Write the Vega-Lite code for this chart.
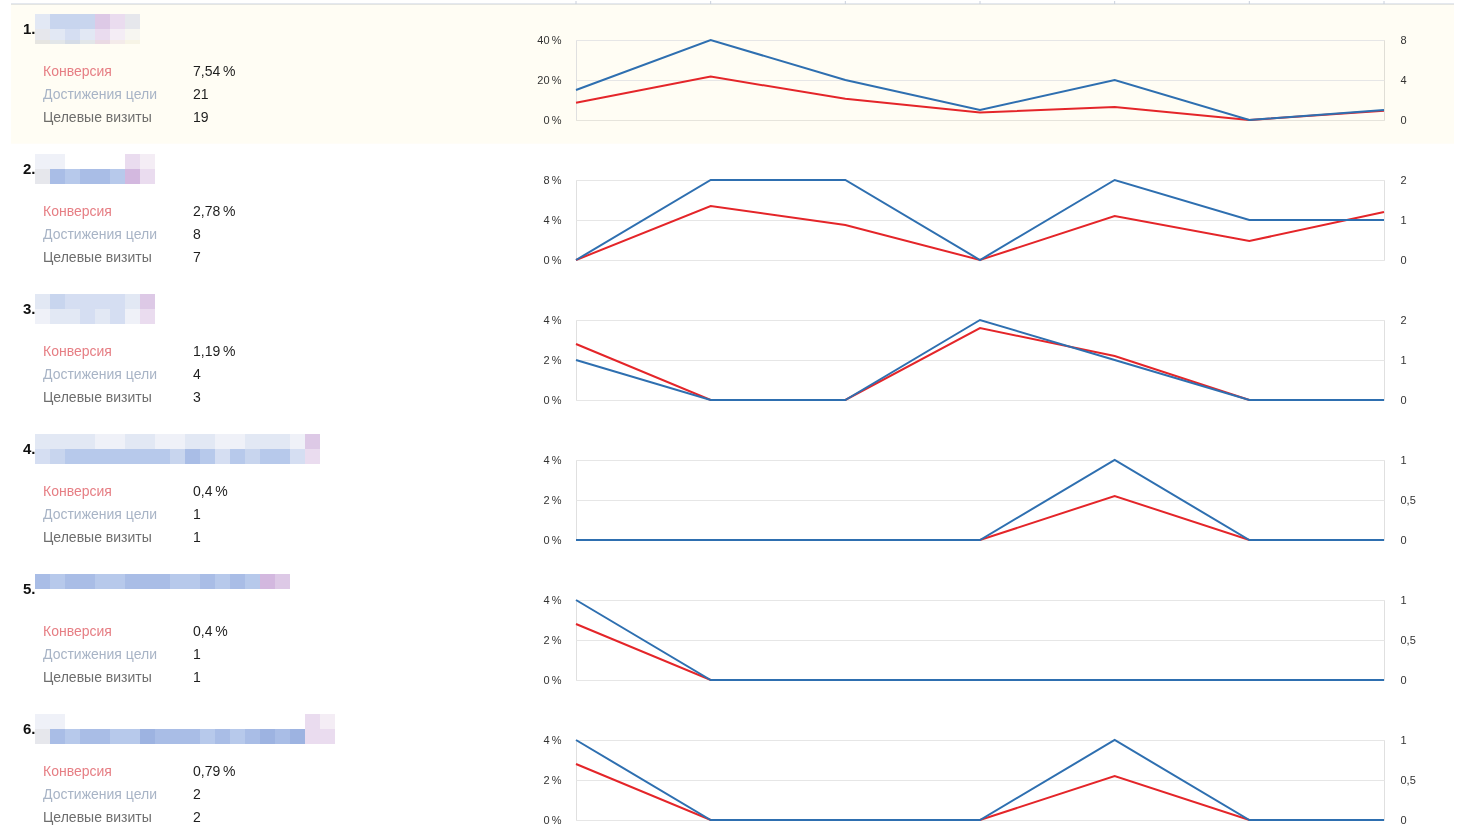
{
  "$schema": "https://vega.github.io/schema/vega-lite/v6.json",
  "padding": {"left": 10, "top": 0, "right": 0, "bottom": 0},
  "background": "white",
  "bounds": "flush",
  "spacing": 0,
  "columns": 3,
  "datasets": {
    "rows": [
      {"rank": 1, "num": "1.", "selected": true},
      {"rank": 2, "num": "2.", "selected": false},
      {"rank": 3, "num": "3.", "selected": false},
      {"rank": 4, "num": "4.", "selected": false},
      {"rank": 5, "num": "5.", "selected": false},
      {"rank": 6, "num": "6.", "selected": false}
    ],
    "metrics": [
      {"rank": 1, "metric": "Конверсия", "value": "7,54\u2009%"},
      {"rank": 1, "metric": "Достижения цели", "value": "21"},
      {"rank": 1, "metric": "Целевые визиты", "value": "19"},
      {"rank": 2, "metric": "Конверсия", "value": "2,78\u2009%"},
      {"rank": 2, "metric": "Достижения цели", "value": "8"},
      {"rank": 2, "metric": "Целевые визиты", "value": "7"},
      {"rank": 3, "metric": "Конверсия", "value": "1,19\u2009%"},
      {"rank": 3, "metric": "Достижения цели", "value": "4"},
      {"rank": 3, "metric": "Целевые визиты", "value": "3"},
      {"rank": 4, "metric": "Конверсия", "value": "0,4\u2009%"},
      {"rank": 4, "metric": "Достижения цели", "value": "1"},
      {"rank": 4, "metric": "Целевые визиты", "value": "1"},
      {"rank": 5, "metric": "Конверсия", "value": "0,4\u2009%"},
      {"rank": 5, "metric": "Достижения цели", "value": "1"},
      {"rank": 5, "metric": "Целевые визиты", "value": "1"},
      {"rank": 6, "metric": "Конверсия", "value": "0,79\u2009%"},
      {"rank": 6, "metric": "Достижения цели", "value": "2"},
      {"rank": 6, "metric": "Целевые визиты", "value": "2"}
    ],
    "series": [
      {"rank": 1, "idx": 0, "conv": 8.65, "goals": 3},
      {"rank": 1, "idx": 1, "conv": 21.7, "goals": 8},
      {"rank": 1, "idx": 2, "conv": 10.6, "goals": 4},
      {"rank": 1, "idx": 3, "conv": 3.7, "goals": 1},
      {"rank": 1, "idx": 4, "conv": 6.5, "goals": 4},
      {"rank": 1, "idx": 5, "conv": 0, "goals": 0},
      {"rank": 1, "idx": 6, "conv": 4.6, "goals": 1},
      {"rank": 2, "idx": 0, "conv": 0, "goals": 0},
      {"rank": 2, "idx": 1, "conv": 5.4, "goals": 2},
      {"rank": 2, "idx": 2, "conv": 3.5, "goals": 2},
      {"rank": 2, "idx": 3, "conv": 0, "goals": 0},
      {"rank": 2, "idx": 4, "conv": 4.4, "goals": 2},
      {"rank": 2, "idx": 5, "conv": 1.9, "goals": 1},
      {"rank": 2, "idx": 6, "conv": 4.8, "goals": 1},
      {"rank": 3, "idx": 0, "conv": 2.8, "goals": 1},
      {"rank": 3, "idx": 1, "conv": 0, "goals": 0},
      {"rank": 3, "idx": 2, "conv": 0, "goals": 0},
      {"rank": 3, "idx": 3, "conv": 3.6, "goals": 2},
      {"rank": 3, "idx": 4, "conv": 2.2, "goals": 1},
      {"rank": 3, "idx": 5, "conv": 0, "goals": 0},
      {"rank": 3, "idx": 6, "conv": 0, "goals": 0},
      {"rank": 4, "idx": 0, "conv": 0, "goals": 0},
      {"rank": 4, "idx": 1, "conv": 0, "goals": 0},
      {"rank": 4, "idx": 2, "conv": 0, "goals": 0},
      {"rank": 4, "idx": 3, "conv": 0, "goals": 0},
      {"rank": 4, "idx": 4, "conv": 2.2, "goals": 1},
      {"rank": 4, "idx": 5, "conv": 0, "goals": 0},
      {"rank": 4, "idx": 6, "conv": 0, "goals": 0},
      {"rank": 5, "idx": 0, "conv": 2.8, "goals": 1},
      {"rank": 5, "idx": 1, "conv": 0, "goals": 0},
      {"rank": 5, "idx": 2, "conv": 0, "goals": 0},
      {"rank": 5, "idx": 3, "conv": 0, "goals": 0},
      {"rank": 5, "idx": 4, "conv": 0, "goals": 0},
      {"rank": 5, "idx": 5, "conv": 0, "goals": 0},
      {"rank": 5, "idx": 6, "conv": 0, "goals": 0},
      {"rank": 6, "idx": 0, "conv": 2.8, "goals": 1},
      {"rank": 6, "idx": 1, "conv": 0, "goals": 0},
      {"rank": 6, "idx": 2, "conv": 0, "goals": 0},
      {"rank": 6, "idx": 3, "conv": 0, "goals": 0},
      {"rank": 6, "idx": 4, "conv": 2.2, "goals": 1},
      {"rank": 6, "idx": 5, "conv": 0, "goals": 0},
      {"rank": 6, "idx": 6, "conv": 0, "goals": 0}
    ],
    "blocks": [
      {"rank": 1, "bx": 0, "by": 0, "c": "f"}, {"rank": 1, "bx": 1, "by": 0, "c": "d"}, {"rank": 1, "bx": 2, "by": 0, "c": "d"}, {"rank": 1, "bx": 3, "by": 0, "c": "d"}, {"rank": 1, "bx": 4, "by": 0, "c": "q"}, {"rank": 1, "bx": 5, "by": 0, "c": "r"}, {"rank": 1, "bx": 6, "by": 0, "c": "h"},
      {"rank": 1, "bx": 0, "by": 1, "c": "h"}, {"rank": 1, "bx": 1, "by": 1, "c": "f"}, {"rank": 1, "bx": 2, "by": 1, "c": "e"}, {"rank": 1, "bx": 3, "by": 1, "c": "f"}, {"rank": 1, "bx": 4, "by": 1, "c": "r"}, {"rank": 1, "bx": 5, "by": 1, "c": "s"}, {"rank": 1, "bx": 6, "by": 1, "c": "w"},
      {"rank": 2, "bx": 0, "by": 0, "c": "g"}, {"rank": 2, "bx": 1, "by": 0, "c": "g"}, {"rank": 2, "bx": 6, "by": 0, "c": "r"}, {"rank": 2, "bx": 7, "by": 0, "c": "s"},
      {"rank": 2, "bx": 0, "by": 1, "c": "h"}, {"rank": 2, "bx": 1, "by": 1, "c": "b"}, {"rank": 2, "bx": 2, "by": 1, "c": "c"}, {"rank": 2, "bx": 3, "by": 1, "c": "b"}, {"rank": 2, "bx": 4, "by": 1, "c": "b"}, {"rank": 2, "bx": 5, "by": 1, "c": "c"}, {"rank": 2, "bx": 6, "by": 1, "c": "p"}, {"rank": 2, "bx": 7, "by": 1, "c": "r"},
      {"rank": 3, "bx": 0, "by": 0, "c": "f"}, {"rank": 3, "bx": 1, "by": 0, "c": "d"}, {"rank": 3, "bx": 2, "by": 0, "c": "e"}, {"rank": 3, "bx": 3, "by": 0, "c": "e"}, {"rank": 3, "bx": 4, "by": 0, "c": "e"}, {"rank": 3, "bx": 5, "by": 0, "c": "e"}, {"rank": 3, "bx": 6, "by": 0, "c": "f"}, {"rank": 3, "bx": 7, "by": 0, "c": "q"},
      {"rank": 3, "bx": 0, "by": 1, "c": "g"}, {"rank": 3, "bx": 1, "by": 1, "c": "f"}, {"rank": 3, "bx": 2, "by": 1, "c": "f"}, {"rank": 3, "bx": 3, "by": 1, "c": "e"}, {"rank": 3, "bx": 4, "by": 1, "c": "f"}, {"rank": 3, "bx": 5, "by": 1, "c": "e"}, {"rank": 3, "bx": 6, "by": 1, "c": "g"}, {"rank": 3, "bx": 7, "by": 1, "c": "r"},
      {"rank": 4, "bx": 0, "by": 0, "c": "f"}, {"rank": 4, "bx": 1, "by": 0, "c": "f"}, {"rank": 4, "bx": 2, "by": 0, "c": "f"}, {"rank": 4, "bx": 3, "by": 0, "c": "f"}, {"rank": 4, "bx": 4, "by": 0, "c": "g"}, {"rank": 4, "bx": 5, "by": 0, "c": "g"}, {"rank": 4, "bx": 6, "by": 0, "c": "f"}, {"rank": 4, "bx": 7, "by": 0, "c": "f"}, {"rank": 4, "bx": 8, "by": 0, "c": "g"}, {"rank": 4, "bx": 9, "by": 0, "c": "g"}, {"rank": 4, "bx": 10, "by": 0, "c": "f"}, {"rank": 4, "bx": 11, "by": 0, "c": "f"}, {"rank": 4, "bx": 12, "by": 0, "c": "g"}, {"rank": 4, "bx": 13, "by": 0, "c": "g"}, {"rank": 4, "bx": 14, "by": 0, "c": "f"}, {"rank": 4, "bx": 15, "by": 0, "c": "f"}, {"rank": 4, "bx": 16, "by": 0, "c": "f"}, {"rank": 4, "bx": 17, "by": 0, "c": "g"}, {"rank": 4, "bx": 18, "by": 0, "c": "q"},
      {"rank": 4, "bx": 0, "by": 1, "c": "e"}, {"rank": 4, "bx": 1, "by": 1, "c": "d"}, {"rank": 4, "bx": 2, "by": 1, "c": "c"}, {"rank": 4, "bx": 3, "by": 1, "c": "c"}, {"rank": 4, "bx": 4, "by": 1, "c": "c"}, {"rank": 4, "bx": 5, "by": 1, "c": "c"}, {"rank": 4, "bx": 6, "by": 1, "c": "c"}, {"rank": 4, "bx": 7, "by": 1, "c": "c"}, {"rank": 4, "bx": 8, "by": 1, "c": "c"}, {"rank": 4, "bx": 9, "by": 1, "c": "d"}, {"rank": 4, "bx": 10, "by": 1, "c": "b"}, {"rank": 4, "bx": 11, "by": 1, "c": "c"}, {"rank": 4, "bx": 12, "by": 1, "c": "e"}, {"rank": 4, "bx": 13, "by": 1, "c": "c"}, {"rank": 4, "bx": 14, "by": 1, "c": "d"}, {"rank": 4, "bx": 15, "by": 1, "c": "c"}, {"rank": 4, "bx": 16, "by": 1, "c": "c"}, {"rank": 4, "bx": 17, "by": 1, "c": "e"}, {"rank": 4, "bx": 18, "by": 1, "c": "r"},
      {"rank": 5, "bx": 0, "by": 0, "c": "b"}, {"rank": 5, "bx": 1, "by": 0, "c": "c"}, {"rank": 5, "bx": 2, "by": 0, "c": "b"}, {"rank": 5, "bx": 3, "by": 0, "c": "b"}, {"rank": 5, "bx": 4, "by": 0, "c": "c"}, {"rank": 5, "bx": 5, "by": 0, "c": "c"}, {"rank": 5, "bx": 6, "by": 0, "c": "b"}, {"rank": 5, "bx": 7, "by": 0, "c": "b"}, {"rank": 5, "bx": 8, "by": 0, "c": "b"}, {"rank": 5, "bx": 9, "by": 0, "c": "c"}, {"rank": 5, "bx": 10, "by": 0, "c": "c"}, {"rank": 5, "bx": 11, "by": 0, "c": "b"}, {"rank": 5, "bx": 12, "by": 0, "c": "c"}, {"rank": 5, "bx": 13, "by": 0, "c": "b"}, {"rank": 5, "bx": 14, "by": 0, "c": "c"}, {"rank": 5, "bx": 15, "by": 0, "c": "p"}, {"rank": 5, "bx": 16, "by": 0, "c": "q"},
      {"rank": 6, "bx": 0, "by": 0, "c": "g"}, {"rank": 6, "bx": 1, "by": 0, "c": "g"}, {"rank": 6, "bx": 18, "by": 0, "c": "r"}, {"rank": 6, "bx": 19, "by": 0, "c": "s"},
      {"rank": 6, "bx": 0, "by": 1, "c": "h"}, {"rank": 6, "bx": 1, "by": 1, "c": "b"}, {"rank": 6, "bx": 2, "by": 1, "c": "c"}, {"rank": 6, "bx": 3, "by": 1, "c": "b"}, {"rank": 6, "bx": 4, "by": 1, "c": "b"}, {"rank": 6, "bx": 5, "by": 1, "c": "c"}, {"rank": 6, "bx": 6, "by": 1, "c": "c"}, {"rank": 6, "bx": 7, "by": 1, "c": "a"}, {"rank": 6, "bx": 8, "by": 1, "c": "b"}, {"rank": 6, "bx": 9, "by": 1, "c": "b"}, {"rank": 6, "bx": 10, "by": 1, "c": "b"}, {"rank": 6, "bx": 11, "by": 1, "c": "c"}, {"rank": 6, "bx": 12, "by": 1, "c": "b"}, {"rank": 6, "bx": 13, "by": 1, "c": "c"}, {"rank": 6, "bx": 14, "by": 1, "c": "b"}, {"rank": 6, "bx": 15, "by": 1, "c": "a"}, {"rank": 6, "bx": 16, "by": 1, "c": "b"}, {"rank": 6, "bx": 17, "by": 1, "c": "a"}, {"rank": 6, "bx": 18, "by": 1, "c": "r"}, {"rank": 6, "bx": 19, "by": 1, "c": "r"}
    ]
  },
  "concat": [
    {"width": 565, "height": 3, "data": {"name": "rows"}, "transform": [{"filter": "datum.rank == 1"}], "mark": {"type": "rule", "color": "#c9d0dc"}, "encoding": {"y": {"datum": 0, "type": "quantitative", "scale": {"domain": [0, 1]}, "axis": null}}},
    {"width": 808, "height": 3,
     "layer": [
       {"data": {"name": "rows"}, "transform": [{"filter": "datum.rank == 1"}], "mark": {"type": "rule", "color": "#c9d0dc"}, "encoding": {"y": {"datum": 0, "type": "quantitative", "scale": {"domain": [0, 1]}, "axis": null}}},
       {"data": {"name": "series"}, "transform": [{"filter": "datum.rank == 1"}], "mark": {"type": "rule", "color": "#c9d0dc"}, "encoding": {"x": {"field": "idx", "type": "quantitative", "scale": {"domain": [0, 6]}, "axis": null}}}
     ],
     "resolve": {"scale": {"x": "independent", "y": "independent"}}},
    {"width": 70, "height": 3, "data": {"name": "rows"}, "transform": [{"filter": "datum.rank == 1"}], "mark": {"type": "rule", "color": "#c9d0dc"}, "encoding": {"y": {"datum": 0, "type": "quantitative", "scale": {"domain": [0, 1]}, "axis": null}}},

    {"width": 565, "height": 36,
     "layer": [
       {"data": {"name": "rows"}, "transform": [{"filter": "datum.selected && datum.rank == 1"}], "mark": {"type": "rect", "color": "#fffdf4", "blend": "multiply"}, "encoding": {}},
       {"data": {"name": "rows"}, "transform": [{"filter": "datum.rank == 1"}], "mark": {"type": "text", "align": "left", "baseline": "middle", "fontSize": 15, "fontWeight": "bold", "color": "#111111", "dx": -20},
        "encoding": {"x": {"datum": "label", "type": "nominal", "scale": {"type": "point", "domain": ["label", "value", "end"], "padding": 0.883, "align": 0.1208}, "axis": null},
                     "y": {"datum": "title", "type": "nominal", "scale": {"type": "point", "domain": ["title"], "padding": 0, "align": 0.694}, "axis": null},
                     "text": {"field": "num"}}},
       {"data": {"name": "blocks"}, "transform": [{"filter": "datum.rank == 1"}], "mark": {"type": "rect", "height": 15},
        "encoding": {"x": {"field": "bx", "type": "ordinal", "scale": {"type": "band", "domain": [0,1,2,3,4,5,6,7,8,9,10,11,12,13,14,15,16,17,18,19,20,21,22,23,24,25,26,27,28,29,30,31,32,33,34,35], "paddingInner": 0, "paddingOuter": 0.8333, "align": 0.96}, "axis": null},
                     "y": {"field": "by", "type": "ordinal", "scale": {"type": "point", "domain": [0, 1], "padding": 0.7, "align": 0.833}, "axis": null},
                     "color": {"field": "c", "type": "nominal", "legend": null, "scale": {"domain": ["a","b","c","d","e","f","g","h","p","q","r","s","w"], "range": ["#9db3e1","#a9bde6","#b7c9eb","#c8d5ee","#d5def2","#e2e8f4","#eff1f8","#e6e7ec","#d3b8df","#ddc9e6","#eadcef","#f4edf5","#f7f6f1"]}}}}
     ],
     "resolve": {"scale": {"x": "independent", "y": "independent"}}},
    {"width": 808, "height": 36, "data": {"name": "rows"}, "transform": [{"filter": "datum.selected && datum.rank == 1"}], "mark": {"type": "rect", "color": "#fffdf4", "blend": "multiply"}, "encoding": {}},
    {"width": 70, "height": 36, "data": {"name": "rows"}, "transform": [{"filter": "datum.selected && datum.rank == 1"}], "mark": {"type": "rect", "color": "#fffdf4", "blend": "multiply"}, "encoding": {}},
    {"width": 565, "height": 80,
     "layer": [
       {"data": {"name": "rows"}, "transform": [{"filter": "datum.selected && datum.rank == 1"}], "mark": {"type": "rect", "color": "#fffdf4", "blend": "multiply"}, "encoding": {}},
       {"data": {"name": "metrics"}, "transform": [{"filter": "datum.rank == 1"}], "mark": {"type": "text", "align": "left", "baseline": "middle", "fontSize": 14},
        "encoding": {"x": {"datum": "label", "type": "nominal", "scale": {"type": "point", "domain": ["label", "value", "end"], "padding": 0.883, "align": 0.1208}, "axis": null},
                     "y": {"field": "metric", "type": "nominal", "scale": {"type": "point", "domain": ["Конверсия", "Достижения цели", "Целевые визиты"], "padding": 0.739, "align": 0.941}, "axis": null},
                     "text": {"field": "metric"},
                     "color": {"field": "metric", "type": "nominal", "legend": null, "scale": {"domain": ["Конверсия", "Достижения цели", "Целевые визиты"], "range": ["#e67e84", "#a8b4c6", "#6e6e6e"]}}}},
       {"data": {"name": "metrics"}, "transform": [{"filter": "datum.rank == 1"}], "mark": {"type": "text", "align": "left", "baseline": "middle", "fontSize": 14, "color": "#1e1e1e"},
        "encoding": {"x": {"datum": "value", "type": "nominal", "scale": {"type": "point", "domain": ["label", "value", "end"], "padding": 0.883, "align": 0.1208}, "axis": null},
                     "y": {"field": "metric", "type": "nominal", "scale": {"type": "point", "domain": ["Конверсия", "Достижения цели", "Целевые визиты"], "padding": 0.739, "align": 0.941}, "axis": null},
                     "text": {"field": "value"}}}
     ],
     "resolve": {"scale": {"x": "independent", "y": "independent", "color": "independent"}}},
    {"width": 808, "height": 80,
     "view": {"stroke": "#e0e0e0", "fill": "#fffdf4"},
     "data": {"name": "series"},
     "transform": [{"filter": "datum.rank == 1"}],
     "layer": [
       {"mark": {"type": "line", "color": "#e42529", "strokeWidth": 2},
        "encoding": {"x": {"field": "idx", "type": "quantitative", "scale": {"domain": [0, 6]}, "axis": null},
                     "y": {"field": "conv", "type": "quantitative", "scale": {"domain": [0, 40]}, "axis": {"values": [0, 20, 40], "format": "~r", "labelExpr": "datum.label + '\u2009%'", "title": null}}}},
       {"mark": {"type": "line", "color": "#2e6fb0", "strokeWidth": 2},
        "encoding": {"x": {"field": "idx", "type": "quantitative", "scale": {"domain": [0, 6]}, "axis": null},
                     "y": {"field": "goals", "type": "quantitative", "scale": {"domain": [0, 8]}, "axis": {"orient": "right", "values": [0, 4, 8], "format": "~r", "grid": false, "labelPadding": 16, "title": null}}}}
     ],
     "resolve": {"scale": {"y": "independent"}}},
    {"width": 70, "height": 80, "data": {"name": "rows"}, "transform": [{"filter": "datum.selected && datum.rank == 1"}], "mark": {"type": "rect", "color": "#fffdf4", "blend": "multiply"}, "encoding": {}},
    {"width": 565, "height": 23.8, "data": {"name": "rows"}, "transform": [{"filter": "datum.selected && datum.rank == 1"}], "mark": {"type": "rect", "color": "#fffdf4", "blend": "multiply"}, "encoding": {}},
    {"width": 808, "height": 23.8, "data": {"name": "rows"}, "transform": [{"filter": "datum.selected && datum.rank == 1"}], "mark": {"type": "rect", "color": "#fffdf4", "blend": "multiply"}, "encoding": {}},
    {"width": 70, "height": 23.8, "data": {"name": "rows"}, "transform": [{"filter": "datum.selected && datum.rank == 1"}], "mark": {"type": "rect", "color": "#fffdf4", "blend": "multiply"}, "encoding": {}},

    {"width": 565, "height": 36,
     "layer": [
       {"data": {"name": "rows"}, "transform": [{"filter": "datum.selected && datum.rank == 2"}], "mark": {"type": "rect", "color": "#fffdf4", "blend": "multiply"}, "encoding": {}},
       {"data": {"name": "rows"}, "transform": [{"filter": "datum.rank == 2"}], "mark": {"type": "text", "align": "left", "baseline": "middle", "fontSize": 15, "fontWeight": "bold", "color": "#111111", "dx": -20},
        "encoding": {"x": {"datum": "label", "type": "nominal", "scale": {"type": "point", "domain": ["label", "value", "end"], "padding": 0.883, "align": 0.1208}, "axis": null},
                     "y": {"datum": "title", "type": "nominal", "scale": {"type": "point", "domain": ["title"], "padding": 0, "align": 0.694}, "axis": null},
                     "text": {"field": "num"}}},
       {"data": {"name": "blocks"}, "transform": [{"filter": "datum.rank == 2"}], "mark": {"type": "rect", "height": 15},
        "encoding": {"x": {"field": "bx", "type": "ordinal", "scale": {"type": "band", "domain": [0,1,2,3,4,5,6,7,8,9,10,11,12,13,14,15,16,17,18,19,20,21,22,23,24,25,26,27,28,29,30,31,32,33,34,35], "paddingInner": 0, "paddingOuter": 0.8333, "align": 0.96}, "axis": null},
                     "y": {"field": "by", "type": "ordinal", "scale": {"type": "point", "domain": [0, 1], "padding": 0.7, "align": 0.833}, "axis": null},
                     "color": {"field": "c", "type": "nominal", "legend": null, "scale": {"domain": ["a","b","c","d","e","f","g","h","p","q","r","s","w"], "range": ["#9db3e1","#a9bde6","#b7c9eb","#c8d5ee","#d5def2","#e2e8f4","#eff1f8","#e6e7ec","#d3b8df","#ddc9e6","#eadcef","#f4edf5","#f7f6f1"]}}}}
     ],
     "resolve": {"scale": {"x": "independent", "y": "independent"}}},
    {"width": 808, "height": 36, "data": {"name": "rows"}, "transform": [{"filter": "datum.selected && datum.rank == 2"}], "mark": {"type": "rect", "color": "#fffdf4", "blend": "multiply"}, "encoding": {}},
    {"width": 70, "height": 36, "data": {"name": "rows"}, "transform": [{"filter": "datum.selected && datum.rank == 2"}], "mark": {"type": "rect", "color": "#fffdf4", "blend": "multiply"}, "encoding": {}},
    {"width": 565, "height": 80,
     "layer": [
       {"data": {"name": "rows"}, "transform": [{"filter": "datum.selected && datum.rank == 2"}], "mark": {"type": "rect", "color": "#fffdf4", "blend": "multiply"}, "encoding": {}},
       {"data": {"name": "metrics"}, "transform": [{"filter": "datum.rank == 2"}], "mark": {"type": "text", "align": "left", "baseline": "middle", "fontSize": 14},
        "encoding": {"x": {"datum": "label", "type": "nominal", "scale": {"type": "point", "domain": ["label", "value", "end"], "padding": 0.883, "align": 0.1208}, "axis": null},
                     "y": {"field": "metric", "type": "nominal", "scale": {"type": "point", "domain": ["Конверсия", "Достижения цели", "Целевые визиты"], "padding": 0.739, "align": 0.941}, "axis": null},
                     "text": {"field": "metric"},
                     "color": {"field": "metric", "type": "nominal", "legend": null, "scale": {"domain": ["Конверсия", "Достижения цели", "Целевые визиты"], "range": ["#e67e84", "#a8b4c6", "#6e6e6e"]}}}},
       {"data": {"name": "metrics"}, "transform": [{"filter": "datum.rank == 2"}], "mark": {"type": "text", "align": "left", "baseline": "middle", "fontSize": 14, "color": "#1e1e1e"},
        "encoding": {"x": {"datum": "value", "type": "nominal", "scale": {"type": "point", "domain": ["label", "value", "end"], "padding": 0.883, "align": 0.1208}, "axis": null},
                     "y": {"field": "metric", "type": "nominal", "scale": {"type": "point", "domain": ["Конверсия", "Достижения цели", "Целевые визиты"], "padding": 0.739, "align": 0.941}, "axis": null},
                     "text": {"field": "value"}}}
     ],
     "resolve": {"scale": {"x": "independent", "y": "independent", "color": "independent"}}},
    {"width": 808, "height": 80,
     "view": {"stroke": "#e0e0e0"},
     "data": {"name": "series"},
     "transform": [{"filter": "datum.rank == 2"}],
     "layer": [
       {"mark": {"type": "line", "color": "#e42529", "strokeWidth": 2},
        "encoding": {"x": {"field": "idx", "type": "quantitative", "scale": {"domain": [0, 6]}, "axis": null},
                     "y": {"field": "conv", "type": "quantitative", "scale": {"domain": [0, 8]}, "axis": {"values": [0, 4, 8], "format": "~r", "labelExpr": "datum.label + '\u2009%'", "title": null}}}},
       {"mark": {"type": "line", "color": "#2e6fb0", "strokeWidth": 2},
        "encoding": {"x": {"field": "idx", "type": "quantitative", "scale": {"domain": [0, 6]}, "axis": null},
                     "y": {"field": "goals", "type": "quantitative", "scale": {"domain": [0, 2]}, "axis": {"orient": "right", "values": [0, 1, 2], "format": "~r", "grid": false, "labelPadding": 16, "title": null}}}}
     ],
     "resolve": {"scale": {"y": "independent"}}},
    {"width": 70, "height": 80, "data": {"name": "rows"}, "transform": [{"filter": "datum.selected && datum.rank == 2"}], "mark": {"type": "rect", "color": "#fffdf4", "blend": "multiply"}, "encoding": {}},
    {"width": 565, "height": 23.8, "data": {"name": "rows"}, "transform": [{"filter": "datum.selected && datum.rank == 2"}], "mark": {"type": "rect", "color": "#fffdf4", "blend": "multiply"}, "encoding": {}},
    {"width": 808, "height": 23.8, "data": {"name": "rows"}, "transform": [{"filter": "datum.selected && datum.rank == 2"}], "mark": {"type": "rect", "color": "#fffdf4", "blend": "multiply"}, "encoding": {}},
    {"width": 70, "height": 23.8, "data": {"name": "rows"}, "transform": [{"filter": "datum.selected && datum.rank == 2"}], "mark": {"type": "rect", "color": "#fffdf4", "blend": "multiply"}, "encoding": {}},

    {"width": 565, "height": 36,
     "layer": [
       {"data": {"name": "rows"}, "transform": [{"filter": "datum.selected && datum.rank == 3"}], "mark": {"type": "rect", "color": "#fffdf4", "blend": "multiply"}, "encoding": {}},
       {"data": {"name": "rows"}, "transform": [{"filter": "datum.rank == 3"}], "mark": {"type": "text", "align": "left", "baseline": "middle", "fontSize": 15, "fontWeight": "bold", "color": "#111111", "dx": -20},
        "encoding": {"x": {"datum": "label", "type": "nominal", "scale": {"type": "point", "domain": ["label", "value", "end"], "padding": 0.883, "align": 0.1208}, "axis": null},
                     "y": {"datum": "title", "type": "nominal", "scale": {"type": "point", "domain": ["title"], "padding": 0, "align": 0.694}, "axis": null},
                     "text": {"field": "num"}}},
       {"data": {"name": "blocks"}, "transform": [{"filter": "datum.rank == 3"}], "mark": {"type": "rect", "height": 15},
        "encoding": {"x": {"field": "bx", "type": "ordinal", "scale": {"type": "band", "domain": [0,1,2,3,4,5,6,7,8,9,10,11,12,13,14,15,16,17,18,19,20,21,22,23,24,25,26,27,28,29,30,31,32,33,34,35], "paddingInner": 0, "paddingOuter": 0.8333, "align": 0.96}, "axis": null},
                     "y": {"field": "by", "type": "ordinal", "scale": {"type": "point", "domain": [0, 1], "padding": 0.7, "align": 0.833}, "axis": null},
                     "color": {"field": "c", "type": "nominal", "legend": null, "scale": {"domain": ["a","b","c","d","e","f","g","h","p","q","r","s","w"], "range": ["#9db3e1","#a9bde6","#b7c9eb","#c8d5ee","#d5def2","#e2e8f4","#eff1f8","#e6e7ec","#d3b8df","#ddc9e6","#eadcef","#f4edf5","#f7f6f1"]}}}}
     ],
     "resolve": {"scale": {"x": "independent", "y": "independent"}}},
    {"width": 808, "height": 36, "data": {"name": "rows"}, "transform": [{"filter": "datum.selected && datum.rank == 3"}], "mark": {"type": "rect", "color": "#fffdf4", "blend": "multiply"}, "encoding": {}},
    {"width": 70, "height": 36, "data": {"name": "rows"}, "transform": [{"filter": "datum.selected && datum.rank == 3"}], "mark": {"type": "rect", "color": "#fffdf4", "blend": "multiply"}, "encoding": {}},
    {"width": 565, "height": 80,
     "layer": [
       {"data": {"name": "rows"}, "transform": [{"filter": "datum.selected && datum.rank == 3"}], "mark": {"type": "rect", "color": "#fffdf4", "blend": "multiply"}, "encoding": {}},
       {"data": {"name": "metrics"}, "transform": [{"filter": "datum.rank == 3"}], "mark": {"type": "text", "align": "left", "baseline": "middle", "fontSize": 14},
        "encoding": {"x": {"datum": "label", "type": "nominal", "scale": {"type": "point", "domain": ["label", "value", "end"], "padding": 0.883, "align": 0.1208}, "axis": null},
                     "y": {"field": "metric", "type": "nominal", "scale": {"type": "point", "domain": ["Конверсия", "Достижения цели", "Целевые визиты"], "padding": 0.739, "align": 0.941}, "axis": null},
                     "text": {"field": "metric"},
                     "color": {"field": "metric", "type": "nominal", "legend": null, "scale": {"domain": ["Конверсия", "Достижения цели", "Целевые визиты"], "range": ["#e67e84", "#a8b4c6", "#6e6e6e"]}}}},
       {"data": {"name": "metrics"}, "transform": [{"filter": "datum.rank == 3"}], "mark": {"type": "text", "align": "left", "baseline": "middle", "fontSize": 14, "color": "#1e1e1e"},
        "encoding": {"x": {"datum": "value", "type": "nominal", "scale": {"type": "point", "domain": ["label", "value", "end"], "padding": 0.883, "align": 0.1208}, "axis": null},
                     "y": {"field": "metric", "type": "nominal", "scale": {"type": "point", "domain": ["Конверсия", "Достижения цели", "Целевые визиты"], "padding": 0.739, "align": 0.941}, "axis": null},
                     "text": {"field": "value"}}}
     ],
     "resolve": {"scale": {"x": "independent", "y": "independent", "color": "independent"}}},
    {"width": 808, "height": 80,
     "view": {"stroke": "#e0e0e0"},
     "data": {"name": "series"},
     "transform": [{"filter": "datum.rank == 3"}],
     "layer": [
       {"mark": {"type": "line", "color": "#e42529", "strokeWidth": 2},
        "encoding": {"x": {"field": "idx", "type": "quantitative", "scale": {"domain": [0, 6]}, "axis": null},
                     "y": {"field": "conv", "type": "quantitative", "scale": {"domain": [0, 4]}, "axis": {"values": [0, 2, 4], "format": "~r", "labelExpr": "datum.label + '\u2009%'", "title": null}}}},
       {"mark": {"type": "line", "color": "#2e6fb0", "strokeWidth": 2},
        "encoding": {"x": {"field": "idx", "type": "quantitative", "scale": {"domain": [0, 6]}, "axis": null},
                     "y": {"field": "goals", "type": "quantitative", "scale": {"domain": [0, 2]}, "axis": {"orient": "right", "values": [0, 1, 2], "format": "~r", "grid": false, "labelPadding": 16, "title": null}}}}
     ],
     "resolve": {"scale": {"y": "independent"}}},
    {"width": 70, "height": 80, "data": {"name": "rows"}, "transform": [{"filter": "datum.selected && datum.rank == 3"}], "mark": {"type": "rect", "color": "#fffdf4", "blend": "multiply"}, "encoding": {}},
    {"width": 565, "height": 23.8, "data": {"name": "rows"}, "transform": [{"filter": "datum.selected && datum.rank == 3"}], "mark": {"type": "rect", "color": "#fffdf4", "blend": "multiply"}, "encoding": {}},
    {"width": 808, "height": 23.8, "data": {"name": "rows"}, "transform": [{"filter": "datum.selected && datum.rank == 3"}], "mark": {"type": "rect", "color": "#fffdf4", "blend": "multiply"}, "encoding": {}},
    {"width": 70, "height": 23.8, "data": {"name": "rows"}, "transform": [{"filter": "datum.selected && datum.rank == 3"}], "mark": {"type": "rect", "color": "#fffdf4", "blend": "multiply"}, "encoding": {}},

    {"width": 565, "height": 36,
     "layer": [
       {"data": {"name": "rows"}, "transform": [{"filter": "datum.selected && datum.rank == 4"}], "mark": {"type": "rect", "color": "#fffdf4", "blend": "multiply"}, "encoding": {}},
       {"data": {"name": "rows"}, "transform": [{"filter": "datum.rank == 4"}], "mark": {"type": "text", "align": "left", "baseline": "middle", "fontSize": 15, "fontWeight": "bold", "color": "#111111", "dx": -20},
        "encoding": {"x": {"datum": "label", "type": "nominal", "scale": {"type": "point", "domain": ["label", "value", "end"], "padding": 0.883, "align": 0.1208}, "axis": null},
                     "y": {"datum": "title", "type": "nominal", "scale": {"type": "point", "domain": ["title"], "padding": 0, "align": 0.694}, "axis": null},
                     "text": {"field": "num"}}},
       {"data": {"name": "blocks"}, "transform": [{"filter": "datum.rank == 4"}], "mark": {"type": "rect", "height": 15},
        "encoding": {"x": {"field": "bx", "type": "ordinal", "scale": {"type": "band", "domain": [0,1,2,3,4,5,6,7,8,9,10,11,12,13,14,15,16,17,18,19,20,21,22,23,24,25,26,27,28,29,30,31,32,33,34,35], "paddingInner": 0, "paddingOuter": 0.8333, "align": 0.96}, "axis": null},
                     "y": {"field": "by", "type": "ordinal", "scale": {"type": "point", "domain": [0, 1], "padding": 0.7, "align": 0.833}, "axis": null},
                     "color": {"field": "c", "type": "nominal", "legend": null, "scale": {"domain": ["a","b","c","d","e","f","g","h","p","q","r","s","w"], "range": ["#9db3e1","#a9bde6","#b7c9eb","#c8d5ee","#d5def2","#e2e8f4","#eff1f8","#e6e7ec","#d3b8df","#ddc9e6","#eadcef","#f4edf5","#f7f6f1"]}}}}
     ],
     "resolve": {"scale": {"x": "independent", "y": "independent"}}},
    {"width": 808, "height": 36, "data": {"name": "rows"}, "transform": [{"filter": "datum.selected && datum.rank == 4"}], "mark": {"type": "rect", "color": "#fffdf4", "blend": "multiply"}, "encoding": {}},
    {"width": 70, "height": 36, "data": {"name": "rows"}, "transform": [{"filter": "datum.selected && datum.rank == 4"}], "mark": {"type": "rect", "color": "#fffdf4", "blend": "multiply"}, "encoding": {}},
    {"width": 565, "height": 80,
     "layer": [
       {"data": {"name": "rows"}, "transform": [{"filter": "datum.selected && datum.rank == 4"}], "mark": {"type": "rect", "color": "#fffdf4", "blend": "multiply"}, "encoding": {}},
       {"data": {"name": "metrics"}, "transform": [{"filter": "datum.rank == 4"}], "mark": {"type": "text", "align": "left", "baseline": "middle", "fontSize": 14},
        "encoding": {"x": {"datum": "label", "type": "nominal", "scale": {"type": "point", "domain": ["label", "value", "end"], "padding": 0.883, "align": 0.1208}, "axis": null},
                     "y": {"field": "metric", "type": "nominal", "scale": {"type": "point", "domain": ["Конверсия", "Достижения цели", "Целевые визиты"], "padding": 0.739, "align": 0.941}, "axis": null},
                     "text": {"field": "metric"},
                     "color": {"field": "metric", "type": "nominal", "legend": null, "scale": {"domain": ["Конверсия", "Достижения цели", "Целевые визиты"], "range": ["#e67e84", "#a8b4c6", "#6e6e6e"]}}}},
       {"data": {"name": "metrics"}, "transform": [{"filter": "datum.rank == 4"}], "mark": {"type": "text", "align": "left", "baseline": "middle", "fontSize": 14, "color": "#1e1e1e"},
        "encoding": {"x": {"datum": "value", "type": "nominal", "scale": {"type": "point", "domain": ["label", "value", "end"], "padding": 0.883, "align": 0.1208}, "axis": null},
                     "y": {"field": "metric", "type": "nominal", "scale": {"type": "point", "domain": ["Конверсия", "Достижения цели", "Целевые визиты"], "padding": 0.739, "align": 0.941}, "axis": null},
                     "text": {"field": "value"}}}
     ],
     "resolve": {"scale": {"x": "independent", "y": "independent", "color": "independent"}}},
    {"width": 808, "height": 80,
     "view": {"stroke": "#e0e0e0"},
     "data": {"name": "series"},
     "transform": [{"filter": "datum.rank == 4"}],
     "layer": [
       {"mark": {"type": "line", "color": "#e42529", "strokeWidth": 2},
        "encoding": {"x": {"field": "idx", "type": "quantitative", "scale": {"domain": [0, 6]}, "axis": null},
                     "y": {"field": "conv", "type": "quantitative", "scale": {"domain": [0, 4]}, "axis": {"values": [0, 2, 4], "format": "~r", "labelExpr": "datum.label + '\u2009%'", "title": null}}}},
       {"mark": {"type": "line", "color": "#2e6fb0", "strokeWidth": 2},
        "encoding": {"x": {"field": "idx", "type": "quantitative", "scale": {"domain": [0, 6]}, "axis": null},
                     "y": {"field": "goals", "type": "quantitative", "scale": {"domain": [0, 1]}, "axis": {"orient": "right", "values": [0, 0.5, 1], "format": "~r", "grid": false, "labelPadding": 16, "title": null}}}}
     ],
     "resolve": {"scale": {"y": "independent"}}},
    {"width": 70, "height": 80, "data": {"name": "rows"}, "transform": [{"filter": "datum.selected && datum.rank == 4"}], "mark": {"type": "rect", "color": "#fffdf4", "blend": "multiply"}, "encoding": {}},
    {"width": 565, "height": 23.8, "data": {"name": "rows"}, "transform": [{"filter": "datum.selected && datum.rank == 4"}], "mark": {"type": "rect", "color": "#fffdf4", "blend": "multiply"}, "encoding": {}},
    {"width": 808, "height": 23.8, "data": {"name": "rows"}, "transform": [{"filter": "datum.selected && datum.rank == 4"}], "mark": {"type": "rect", "color": "#fffdf4", "blend": "multiply"}, "encoding": {}},
    {"width": 70, "height": 23.8, "data": {"name": "rows"}, "transform": [{"filter": "datum.selected && datum.rank == 4"}], "mark": {"type": "rect", "color": "#fffdf4", "blend": "multiply"}, "encoding": {}},

    {"width": 565, "height": 36,
     "layer": [
       {"data": {"name": "rows"}, "transform": [{"filter": "datum.selected && datum.rank == 5"}], "mark": {"type": "rect", "color": "#fffdf4", "blend": "multiply"}, "encoding": {}},
       {"data": {"name": "rows"}, "transform": [{"filter": "datum.rank == 5"}], "mark": {"type": "text", "align": "left", "baseline": "middle", "fontSize": 15, "fontWeight": "bold", "color": "#111111", "dx": -20},
        "encoding": {"x": {"datum": "label", "type": "nominal", "scale": {"type": "point", "domain": ["label", "value", "end"], "padding": 0.883, "align": 0.1208}, "axis": null},
                     "y": {"datum": "title", "type": "nominal", "scale": {"type": "point", "domain": ["title"], "padding": 0, "align": 0.694}, "axis": null},
                     "text": {"field": "num"}}},
       {"data": {"name": "blocks"}, "transform": [{"filter": "datum.rank == 5"}], "mark": {"type": "rect", "height": 15},
        "encoding": {"x": {"field": "bx", "type": "ordinal", "scale": {"type": "band", "domain": [0,1,2,3,4,5,6,7,8,9,10,11,12,13,14,15,16,17,18,19,20,21,22,23,24,25,26,27,28,29,30,31,32,33,34,35], "paddingInner": 0, "paddingOuter": 0.8333, "align": 0.96}, "axis": null},
                     "y": {"field": "by", "type": "ordinal", "scale": {"type": "point", "domain": [0, 1], "padding": 0.7, "align": 0.833}, "axis": null},
                     "color": {"field": "c", "type": "nominal", "legend": null, "scale": {"domain": ["a","b","c","d","e","f","g","h","p","q","r","s","w"], "range": ["#9db3e1","#a9bde6","#b7c9eb","#c8d5ee","#d5def2","#e2e8f4","#eff1f8","#e6e7ec","#d3b8df","#ddc9e6","#eadcef","#f4edf5","#f7f6f1"]}}}}
     ],
     "resolve": {"scale": {"x": "independent", "y": "independent"}}},
    {"width": 808, "height": 36, "data": {"name": "rows"}, "transform": [{"filter": "datum.selected && datum.rank == 5"}], "mark": {"type": "rect", "color": "#fffdf4", "blend": "multiply"}, "encoding": {}},
    {"width": 70, "height": 36, "data": {"name": "rows"}, "transform": [{"filter": "datum.selected && datum.rank == 5"}], "mark": {"type": "rect", "color": "#fffdf4", "blend": "multiply"}, "encoding": {}},
    {"width": 565, "height": 80,
     "layer": [
       {"data": {"name": "rows"}, "transform": [{"filter": "datum.selected && datum.rank == 5"}], "mark": {"type": "rect", "color": "#fffdf4", "blend": "multiply"}, "encoding": {}},
       {"data": {"name": "metrics"}, "transform": [{"filter": "datum.rank == 5"}], "mark": {"type": "text", "align": "left", "baseline": "middle", "fontSize": 14},
        "encoding": {"x": {"datum": "label", "type": "nominal", "scale": {"type": "point", "domain": ["label", "value", "end"], "padding": 0.883, "align": 0.1208}, "axis": null},
                     "y": {"field": "metric", "type": "nominal", "scale": {"type": "point", "domain": ["Конверсия", "Достижения цели", "Целевые визиты"], "padding": 0.739, "align": 0.941}, "axis": null},
                     "text": {"field": "metric"},
                     "color": {"field": "metric", "type": "nominal", "legend": null, "scale": {"domain": ["Конверсия", "Достижения цели", "Целевые визиты"], "range": ["#e67e84", "#a8b4c6", "#6e6e6e"]}}}},
       {"data": {"name": "metrics"}, "transform": [{"filter": "datum.rank == 5"}], "mark": {"type": "text", "align": "left", "baseline": "middle", "fontSize": 14, "color": "#1e1e1e"},
        "encoding": {"x": {"datum": "value", "type": "nominal", "scale": {"type": "point", "domain": ["label", "value", "end"], "padding": 0.883, "align": 0.1208}, "axis": null},
                     "y": {"field": "metric", "type": "nominal", "scale": {"type": "point", "domain": ["Конверсия", "Достижения цели", "Целевые визиты"], "padding": 0.739, "align": 0.941}, "axis": null},
                     "text": {"field": "value"}}}
     ],
     "resolve": {"scale": {"x": "independent", "y": "independent", "color": "independent"}}},
    {"width": 808, "height": 80,
     "view": {"stroke": "#e0e0e0"},
     "data": {"name": "series"},
     "transform": [{"filter": "datum.rank == 5"}],
     "layer": [
       {"mark": {"type": "line", "color": "#e42529", "strokeWidth": 2},
        "encoding": {"x": {"field": "idx", "type": "quantitative", "scale": {"domain": [0, 6]}, "axis": null},
                     "y": {"field": "conv", "type": "quantitative", "scale": {"domain": [0, 4]}, "axis": {"values": [0, 2, 4], "format": "~r", "labelExpr": "datum.label + '\u2009%'", "title": null}}}},
       {"mark": {"type": "line", "color": "#2e6fb0", "strokeWidth": 2},
        "encoding": {"x": {"field": "idx", "type": "quantitative", "scale": {"domain": [0, 6]}, "axis": null},
                     "y": {"field": "goals", "type": "quantitative", "scale": {"domain": [0, 1]}, "axis": {"orient": "right", "values": [0, 0.5, 1], "format": "~r", "grid": false, "labelPadding": 16, "title": null}}}}
     ],
     "resolve": {"scale": {"y": "independent"}}},
    {"width": 70, "height": 80, "data": {"name": "rows"}, "transform": [{"filter": "datum.selected && datum.rank == 5"}], "mark": {"type": "rect", "color": "#fffdf4", "blend": "multiply"}, "encoding": {}},
    {"width": 565, "height": 23.8, "data": {"name": "rows"}, "transform": [{"filter": "datum.selected && datum.rank == 5"}], "mark": {"type": "rect", "color": "#fffdf4", "blend": "multiply"}, "encoding": {}},
    {"width": 808, "height": 23.8, "data": {"name": "rows"}, "transform": [{"filter": "datum.selected && datum.rank == 5"}], "mark": {"type": "rect", "color": "#fffdf4", "blend": "multiply"}, "encoding": {}},
    {"width": 70, "height": 23.8, "data": {"name": "rows"}, "transform": [{"filter": "datum.selected && datum.rank == 5"}], "mark": {"type": "rect", "color": "#fffdf4", "blend": "multiply"}, "encoding": {}},

    {"width": 565, "height": 36,
     "layer": [
       {"data": {"name": "rows"}, "transform": [{"filter": "datum.selected && datum.rank == 6"}], "mark": {"type": "rect", "color": "#fffdf4", "blend": "multiply"}, "encoding": {}},
       {"data": {"name": "rows"}, "transform": [{"filter": "datum.rank == 6"}], "mark": {"type": "text", "align": "left", "baseline": "middle", "fontSize": 15, "fontWeight": "bold", "color": "#111111", "dx": -20},
        "encoding": {"x": {"datum": "label", "type": "nominal", "scale": {"type": "point", "domain": ["label", "value", "end"], "padding": 0.883, "align": 0.1208}, "axis": null},
                     "y": {"datum": "title", "type": "nominal", "scale": {"type": "point", "domain": ["title"], "padding": 0, "align": 0.694}, "axis": null},
                     "text": {"field": "num"}}},
       {"data": {"name": "blocks"}, "transform": [{"filter": "datum.rank == 6"}], "mark": {"type": "rect", "height": 15},
        "encoding": {"x": {"field": "bx", "type": "ordinal", "scale": {"type": "band", "domain": [0,1,2,3,4,5,6,7,8,9,10,11,12,13,14,15,16,17,18,19,20,21,22,23,24,25,26,27,28,29,30,31,32,33,34,35], "paddingInner": 0, "paddingOuter": 0.8333, "align": 0.96}, "axis": null},
                     "y": {"field": "by", "type": "ordinal", "scale": {"type": "point", "domain": [0, 1], "padding": 0.7, "align": 0.833}, "axis": null},
                     "color": {"field": "c", "type": "nominal", "legend": null, "scale": {"domain": ["a","b","c","d","e","f","g","h","p","q","r","s","w"], "range": ["#9db3e1","#a9bde6","#b7c9eb","#c8d5ee","#d5def2","#e2e8f4","#eff1f8","#e6e7ec","#d3b8df","#ddc9e6","#eadcef","#f4edf5","#f7f6f1"]}}}}
     ],
     "resolve": {"scale": {"x": "independent", "y": "independent"}}},
    {"width": 808, "height": 36, "data": {"name": "rows"}, "transform": [{"filter": "datum.selected && datum.rank == 6"}], "mark": {"type": "rect", "color": "#fffdf4", "blend": "multiply"}, "encoding": {}},
    {"width": 70, "height": 36, "data": {"name": "rows"}, "transform": [{"filter": "datum.selected && datum.rank == 6"}], "mark": {"type": "rect", "color": "#fffdf4", "blend": "multiply"}, "encoding": {}},
    {"width": 565, "height": 80,
     "layer": [
       {"data": {"name": "rows"}, "transform": [{"filter": "datum.selected && datum.rank == 6"}], "mark": {"type": "rect", "color": "#fffdf4", "blend": "multiply"}, "encoding": {}},
       {"data": {"name": "metrics"}, "transform": [{"filter": "datum.rank == 6"}], "mark": {"type": "text", "align": "left", "baseline": "middle", "fontSize": 14},
        "encoding": {"x": {"datum": "label", "type": "nominal", "scale": {"type": "point", "domain": ["label", "value", "end"], "padding": 0.883, "align": 0.1208}, "axis": null},
                     "y": {"field": "metric", "type": "nominal", "scale": {"type": "point", "domain": ["Конверсия", "Достижения цели", "Целевые визиты"], "padding": 0.739, "align": 0.941}, "axis": null},
                     "text": {"field": "metric"},
                     "color": {"field": "metric", "type": "nominal", "legend": null, "scale": {"domain": ["Конверсия", "Достижения цели", "Целевые визиты"], "range": ["#e67e84", "#a8b4c6", "#6e6e6e"]}}}},
       {"data": {"name": "metrics"}, "transform": [{"filter": "datum.rank == 6"}], "mark": {"type": "text", "align": "left", "baseline": "middle", "fontSize": 14, "color": "#1e1e1e"},
        "encoding": {"x": {"datum": "value", "type": "nominal", "scale": {"type": "point", "domain": ["label", "value", "end"], "padding": 0.883, "align": 0.1208}, "axis": null},
                     "y": {"field": "metric", "type": "nominal", "scale": {"type": "point", "domain": ["Конверсия", "Достижения цели", "Целевые визиты"], "padding": 0.739, "align": 0.941}, "axis": null},
                     "text": {"field": "value"}}}
     ],
     "resolve": {"scale": {"x": "independent", "y": "independent", "color": "independent"}}},
    {"width": 808, "height": 80,
     "view": {"stroke": "#e0e0e0"},
     "data": {"name": "series"},
     "transform": [{"filter": "datum.rank == 6"}],
     "layer": [
       {"mark": {"type": "line", "color": "#e42529", "strokeWidth": 2},
        "encoding": {"x": {"field": "idx", "type": "quantitative", "scale": {"domain": [0, 6]}, "axis": null},
                     "y": {"field": "conv", "type": "quantitative", "scale": {"domain": [0, 4]}, "axis": {"values": [0, 2, 4], "format": "~r", "labelExpr": "datum.label + '\u2009%'", "title": null}}}},
       {"mark": {"type": "line", "color": "#2e6fb0", "strokeWidth": 2},
        "encoding": {"x": {"field": "idx", "type": "quantitative", "scale": {"domain": [0, 6]}, "axis": null},
                     "y": {"field": "goals", "type": "quantitative", "scale": {"domain": [0, 1]}, "axis": {"orient": "right", "values": [0, 0.5, 1], "format": "~r", "grid": false, "labelPadding": 16, "title": null}}}}
     ],
     "resolve": {"scale": {"y": "independent"}}},
    {"width": 70, "height": 80, "data": {"name": "rows"}, "transform": [{"filter": "datum.selected && datum.rank == 6"}], "mark": {"type": "rect", "color": "#fffdf4", "blend": "multiply"}, "encoding": {}},
    {"width": 565, "height": 23.8, "data": {"name": "rows"}, "transform": [{"filter": "datum.selected && datum.rank == 6"}], "mark": {"type": "rect", "color": "#fffdf4", "blend": "multiply"}, "encoding": {}},
    {"width": 808, "height": 23.8, "data": {"name": "rows"}, "transform": [{"filter": "datum.selected && datum.rank == 6"}], "mark": {"type": "rect", "color": "#fffdf4", "blend": "multiply"}, "encoding": {}},
    {"width": 70, "height": 23.8, "data": {"name": "rows"}, "transform": [{"filter": "datum.selected && datum.rank == 6"}], "mark": {"type": "rect", "color": "#fffdf4", "blend": "multiply"}, "encoding": {}}
  ],
  "config": {
    "font": "Liberation Sans",
    "view": {"stroke": null},
    "axis": {"domain": false, "ticks": false, "labelFontSize": 11, "labelColor": "#333333", "labelPadding": 15, "gridColor": "#e6e6e6", "labelFont": "Liberation Sans"},
    "locale": {"number": {"decimal": ",", "thousands": "\u00a0", "grouping": [3], "currency": ["", "\u00a0₽"]}}
  }
}
